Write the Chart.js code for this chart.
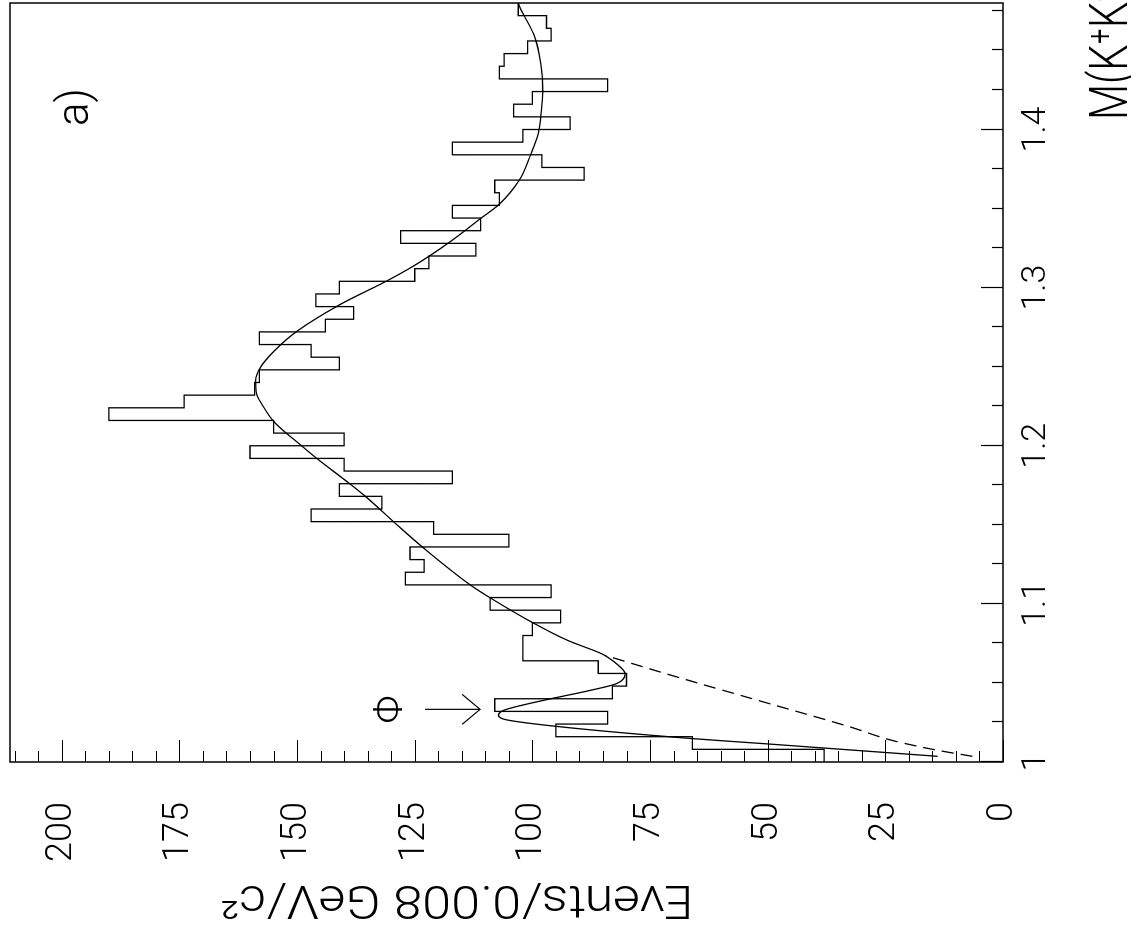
<!DOCTYPE html>
<html><head><meta charset="utf-8">
<script src="https://cdn.jsdelivr.net/npm/chart.js@4"></script>
<style>
html,body{margin:0;padding:0;background:#fff;overflow:hidden;width:1131px;height:936px;}
#wrap{position:absolute;left:0;top:0;width:936px;height:1131px;transform-origin:0 0;transform:translate(0,936px) rotate(-90deg);background:#fff;}
canvas{display:block;}
</style></head><body>
<div id="wrap"><canvas id="c" width="936" height="1131"></canvas></div>
<script>
// ---- data ----
const BIN_START = 1.0;
const BIN_WIDTH = 0.008;
const COUNTS = [38, 66, 95, 84, 108, 83, 80, 86, 102, 102,
                100, 94, 109, 96, 127, 123, 126, 105, 121, 147,
                132, 141, 117, 140, 160, 140, 155, 190, 174, 159,
                158, 141, 147, 158, 144, 138, 146, 141, 125, 122,
                112, 128, 111, 117, 107, 108, 89, 98, 117, 102,
                92, 104, 100, 84, 107, 106, 101, 96, 97, 103];
const FIT_MASS = [1.0036, 1.0116, 1.0148, 1.0226, 1.0268, 1.0295, 1.0327, 1.0383, 1.0453, 1.0495,
                  1.0558, 1.0611, 1.0663, 1.0685, 1.0769, 1.0884, 1.1039, 1.1116, 1.1358, 1.1506,
                  1.1678, 1.1778, 1.1917, 1.2001, 1.2148, 1.2264, 1.2327, 1.2411, 1.2495, 1.2601,
                  1.2727, 1.2896, 1.3043, 1.3138, 1.3296, 1.3435, 1.3523, 1.3679, 1.3839, 1.3970,
                  1.4117, 1.4243, 1.4412, 1.4601, 1.4769, 1.4800];
const FIT_EVENTS = [13.9, 50.8, 66.0, 95.1, 105.7, 107.2, 106.1, 98.7, 87.7, 82.2,
                    80.3, 81.7, 84.0, 85.3, 92.5, 100.1, 109.0, 113.0, 123.3, 129.0,
                    135.4, 139.6, 145.7, 149.1, 154.8, 157.5, 158.6, 158.8, 157.8, 154.8,
                    149.9, 140.7, 130.9, 125.2, 117.2, 111.1, 107.2, 102.8, 100.4, 98.8,
                    98.1, 97.8, 98.2, 99.7, 102.6, 103.0];
const BKG_MASS = [1.0036, 1.0074, 1.0137, 1.0221, 1.0379, 1.0537, 1.0674];
const BKG_EVENTS = [6.5, 13.9, 23.6, 32.4, 50.8, 69.2, 84.5];
const MASS_TICKS = [1, 1.1, 1.2, 1.3, 1.4];
const MASS_TICK_LABELS = ['1', '1.1', '1.2', '1.3', '1.4'];
const EVENT_TICKS = [0, 25, 50, 75, 100, 125, 150, 175, 200];
const EVENT_TICK_LABELS = ['0', '25', '50', '75', '100', '125', '150', '175', '200'];
const X_TITLE = 'M(K\u207AK\u207B)';
const Y_TITLE = 'Events/0.008 GeV/c\u00B2';
const PANEL_LABEL = 'a)';
const PHI_LABEL = '\u03A6';
const PHI_MASS = 1.0333;          // where the arrow points
const PHI_ARROW = [111.1, 122.8]; // arrow tip / tail (events)
const PHI_TEXT_EVENTS = 129.8;

// ---- build datasets ----
const histData = COUNTS.map((c, i) => ({x: BIN_START + i * BIN_WIDTH, y: c}));
histData.push({x: BIN_START + COUNTS.length * BIN_WIDTH, y: COUNTS[COUNTS.length - 1]});
const fitData = FIT_MASS.map((m, i) => ({x: m, y: FIT_EVENTS[i]}));
const bkgData = BKG_MASS.map((m, i) => ({x: m, y: BKG_EVENTS[i]}));

const FONT = 'Roboto, "DejaVu Sans", sans-serif';

const decor = {
  id: 'decor',
  afterDraw(chart) {
    const ctx = chart.ctx, a = chart.chartArea;
    const xs = chart.scales.x, ys = chart.scales.y;
    ctx.save();
    ctx.strokeStyle = '#000';
    ctx.fillStyle = '#000';
    // frame
    ctx.lineWidth = 1.5;
    ctx.strokeRect(a.left, a.top, a.right - a.left, a.bottom - a.top);
    // inward ticks, mass axis
    ctx.lineWidth = 1.2;
    ctx.beginPath();
    for (let i = 0; i <= 19; i++) {
      const v = 1 + i * 0.025;
      const px = Math.round(xs.getPixelForValue(v)) + 0.5;
      const len = (i % 4 === 0) ? 22 : 11;
      ctx.moveTo(px, a.bottom); ctx.lineTo(px, a.bottom - len);
    }
    // inward ticks, events axis
    for (let e = 0; e <= 210; e += 5) {
      const py = Math.round(ys.getPixelForValue(e)) + 0.5;
      const len = (e % 25 === 0) ? 22 : 11;
      ctx.moveTo(a.left, py); ctx.lineTo(a.left + len, py);
    }
    ctx.stroke();

    // x title (partly off the canvas as in the original)
    ctx.font = '300 54px ' + FONT;
    ctx.textAlign = 'left';
    ctx.textBaseline = 'alphabetic';
    let w = ctx.measureText('M(K\u207A').width;
    let sx = 92 / w;
    ctx.save();
    ctx.translate(816, 1127);
    ctx.scale(sx, 1);
    ctx.fillText(X_TITLE, 0, 0);
    ctx.restore();

    // y title (rotated)
    ctx.font = '300 46px ' + FONT;
    ctx.textAlign = 'center';
    ctx.textBaseline = 'middle';
    w = ctx.measureText(Y_TITLE).width;
    sx = 473 / w;
    ctx.save();
    ctx.translate(38, 457);
    ctx.rotate(-Math.PI / 2);
    ctx.scale(sx, 1);
    ctx.fillText(Y_TITLE, 0, 0);
    ctx.restore();

    // panel label
    ctx.font = '300 44px ' + FONT;
    ctx.textAlign = 'left';
    ctx.textBaseline = 'alphabetic';
    ctx.fillText(PANEL_LABEL, 810, 88);

    // phi marker and arrow
    const pxPhi = xs.getPixelForValue(PHI_MASS);
    ctx.font = '300 40px ' + FONT;
    ctx.textAlign = 'center';
    ctx.textBaseline = 'middle';
    ctx.fillText(PHI_LABEL, pxPhi, ys.getPixelForValue(PHI_TEXT_EVENTS));
    const tip = ys.getPixelForValue(PHI_ARROW[0]);
    const tail = ys.getPixelForValue(PHI_ARROW[1]);
    ctx.lineWidth = 1.2;
    ctx.beginPath();
    ctx.moveTo(pxPhi, tail); ctx.lineTo(pxPhi, tip);
    ctx.moveTo(pxPhi - 15, tip - 18); ctx.lineTo(pxPhi, tip); ctx.lineTo(pxPhi + 15, tip - 18);
    ctx.stroke();
    ctx.restore();
  }
};

new Chart(document.getElementById('c'), {
  type: 'line',
  data: {
    datasets: [
      {data: histData, stepped: true, borderColor: '#000', borderWidth: 1.3, pointRadius: 0, fill: false},
      {data: fitData, borderColor: '#000', borderWidth: 1.3, pointRadius: 0, cubicInterpolationMode: 'monotone', fill: false},
      {data: bkgData, borderColor: '#000', borderWidth: 1.3, borderDash: [12, 7], pointRadius: 0, cubicInterpolationMode: 'monotone', fill: false}
    ]
  },
  options: {
    responsive: false,
    animation: false,
    devicePixelRatio: 1,
    layout: {padding: {top: 10, right: 3, left: 0, bottom: 0}},
    plugins: {legend: {display: false}, tooltip: {enabled: false}},
    scales: {
      x: {
        type: 'linear', min: 1, max: 1.48,
        border: {display: false}, grid: {display: false},
        afterBuildTicks: s => { s.ticks = MASS_TICKS.map(v => ({value: v})); },
        afterFit: s => { s.height = 128; s.paddingLeft = 0; s.paddingRight = 0; },
        ticks: {
          autoSkip: false, maxRotation: 0, color: '#000', padding: 5,
          font: {family: FONT, size: 34, weight: 300},
          callback: v => MASS_TICK_LABELS[MASS_TICKS.indexOf(v)]
        }
      },
      y: {
        type: 'linear', min: 0, max: 211,
        border: {display: false}, grid: {display: false},
        afterBuildTicks: s => { s.ticks = EVENT_TICKS.map(v => ({value: v})); },
        afterFit: s => { s.width = 174; s.paddingTop = 0; s.paddingBottom = 0; },
        ticks: {
          autoSkip: false, color: '#000', padding: 32,
          font: {family: FONT, size: 36, weight: 300},
          callback: v => EVENT_TICK_LABELS[EVENT_TICKS.indexOf(v)]
        }
      }
    }
  },
  plugins: [decor]
});
</script>
</body></html>
